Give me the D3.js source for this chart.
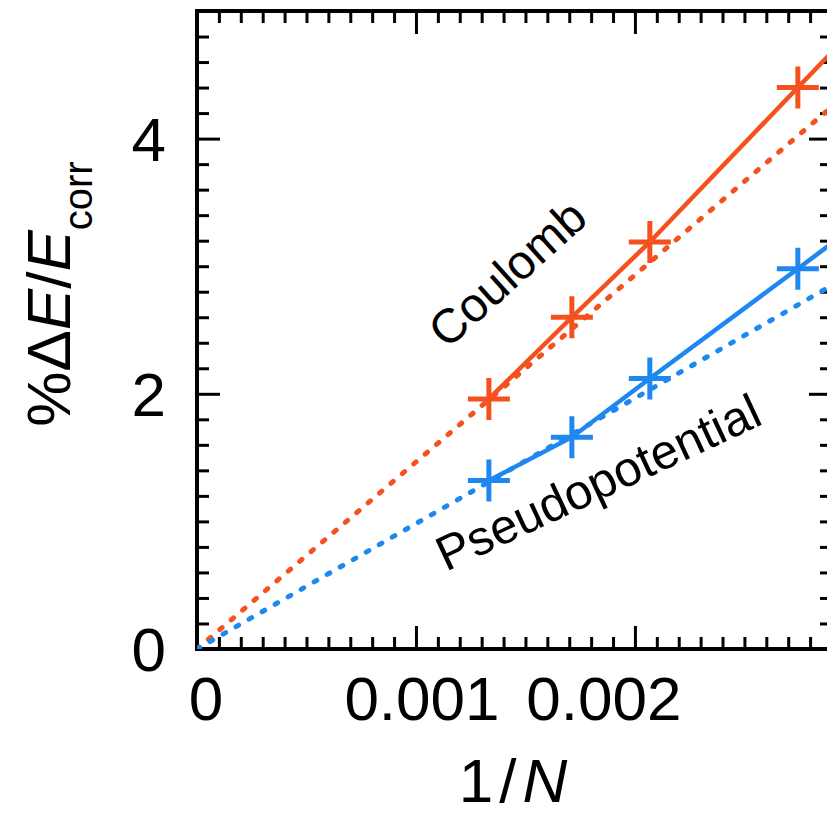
<!DOCTYPE html>
<html><head><meta charset="utf-8">
<script src="https://cdn.jsdelivr.net/npm/d3@7"></script>
<style>body{margin:0;background:#fff}svg{display:block}</style>
</head><body><svg id="c" width="827" height="817"></svg>
<script>
// ---- data ----
const invN = [0.001333, 0.001712, 0.002068, 0.002744, 0.003125];
const coulomb = [1.96, 2.60, 3.19, 4.40, 5.08];
const pseudo = [1.32, 1.66, 2.12, 2.98, 3.47];
const fitX = [0, 0.0029];
const coulombFit = [0, 4.25];
const pseudoFit = [0, 2.85];
const xTickValues = [0, 0.001, 0.002];
const xTickLabels = ["0", "0.001", "0.002"];
const yTickValues = [0, 2, 4];
const yTickLabels = ["0", "2", "4"];
const seriesNames = ["Coulomb", "Pseudopotential"];

const orange = "#f4511e", blue = "#1e88f0";
const font = "Liberation Sans, Arial, sans-serif";

const svg = d3.select("#c");
svg.append("rect").attr("width", 827).attr("height", 817).attr("fill", "#fff");

const x = d3.scaleLinear().domain([0, 0.0029]).range([197, 832]);
const y = d3.scaleLinear().domain([0, 5]).range([649, 11]);

svg.append("defs").append("clipPath").attr("id", "clip")
  .append("rect").attr("x", 197).attr("y", 11).attr("width", 635).attr("height", 638);

const xMinor = d3.range(1, 29).filter(i => i % 10 !== 0).map(i => i * 0.0001);
const yMinor = d3.range(1, 25).filter(i => i % 10 !== 0).map(i => i * 0.2);

function styleAxis(g, w) {
  g.select(".domain").remove();
  g.selectAll(".tick line").attr("stroke", "#000").attr("stroke-width", w);
  g.selectAll(".tick text").remove();
}
// bottom
svg.append("g").attr("transform", "translate(0,649)")
  .call(d3.axisBottom(x).tickValues(xMinor).tickSize(-12).tickFormat("")).call(g => styleAxis(g, 3));
svg.append("g").attr("transform", "translate(0,649)")
  .call(d3.axisBottom(x).tickValues(xTickValues).tickSize(-23).tickFormat("")).call(g => styleAxis(g, 3));
// top
svg.append("g").attr("transform", "translate(0,11)")
  .call(d3.axisTop(x).tickValues(xMinor).tickSize(-12).tickFormat("")).call(g => styleAxis(g, 3));
svg.append("g").attr("transform", "translate(0,11)")
  .call(d3.axisTop(x).tickValues(xTickValues).tickSize(-23).tickFormat("")).call(g => styleAxis(g, 3));
// left
svg.append("g").attr("transform", "translate(197,0)")
  .call(d3.axisLeft(y).tickValues(yMinor).tickSize(-12).tickFormat("")).call(g => styleAxis(g, 3));
svg.append("g").attr("transform", "translate(197,0)")
  .call(d3.axisLeft(y).tickValues(yTickValues).tickSize(-23).tickFormat("")).call(g => styleAxis(g, 3));
// right
svg.append("g").attr("transform", "translate(832,0)")
  .call(d3.axisRight(y).tickValues(yMinor).tickSize(-12).tickFormat("")).call(g => styleAxis(g, 3));
svg.append("g").attr("transform", "translate(832,0)")
  .call(d3.axisRight(y).tickValues(yTickValues).tickSize(-23).tickFormat("")).call(g => styleAxis(g, 3));

// frame
svg.append("rect").attr("x", 197).attr("y", 11).attr("width", 635).attr("height", 638)
  .attr("fill", "none").attr("stroke", "#000").attr("stroke-width", 4);

// tick labels (label placement in the original is slightly shifted from the ticks)
const xLabelShift = [9, 6, -31];
svg.append("g").selectAll("text").data(xTickValues).join("text")
  .attr("x", (d, i) => x(d) + xLabelShift[i]).attr("y", 720).attr("text-anchor", "middle")
  .attr("font-family", font).attr("font-size", 62).text((d, i) => xTickLabels[i]);
svg.append("g").selectAll("text").data(yTickValues).join("text")
  .attr("x", 166).attr("y", d => y(d)).attr("dy", "0.36em").attr("text-anchor", "end")
  .attr("font-family", font).attr("font-size", 62).text((d, i) => yTickLabels[i]);

// plot content
const plot = svg.append("g").attr("clip-path", "url(#clip)");
const line = d3.line().x(d => x(d[0])).y(d => y(d[1]));

const fits = [[coulombFit, orange], [pseudoFit, blue]];
fits.forEach(([vals, col]) => {
  plot.append("path").datum(fitX.map((v, i) => [v, vals[i]])).attr("d", line)
    .attr("fill", "none").attr("stroke", col).attr("stroke-width", 5)
    .attr("stroke-dasharray", "3,12").attr("stroke-linecap", "round");
});
const series = [[coulomb, orange], [pseudo, blue]];
series.forEach(([vals, col]) => {
  const pts = invN.map((v, i) => [v, vals[i]]);
  plot.append("path").datum(pts).attr("d", line)
    .attr("fill", "none").attr("stroke", col).attr("stroke-width", 4.5);
  plot.append("g").selectAll("path").data(pts).join("path")
    .attr("transform", d => `translate(${x(d[0])},${y(d[1])})`)
    .attr("d", "M-21,0H21M0,-21V21").attr("stroke", col).attr("stroke-width", 5).attr("fill", "none");
});

// series labels
svg.append("text").attr("transform", "translate(447,350) rotate(-42)")
  .attr("font-family", font).attr("font-size", 48).attr("fill", "#000").text(seriesNames[0]);
svg.append("text").attr("transform", "translate(446,572) rotate(-25)")
  .attr("font-family", font).attr("font-size", 49).attr("fill", "#000").text(seriesNames[1]);

// axis titles
const yl = svg.append("text").attr("transform", "translate(70,294) rotate(-90)")
  .attr("text-anchor", "middle").attr("font-family", font).attr("font-size", 62);
yl.append("tspan").text("%\u0394");
yl.append("tspan").attr("font-style", "italic").text("E");
yl.append("tspan").text("/");
yl.append("tspan").attr("font-style", "italic").text("E");
yl.append("tspan").attr("font-size", 40).attr("dy", 22).text("corr");

const xl = svg.append("text").attr("x", 513).attr("y", 802)
  .attr("text-anchor", "middle").attr("font-family", font).attr("font-size", 62);
xl.append("tspan").text("1");
xl.append("tspan").attr("dx", 6).text("/");
xl.append("tspan").attr("dx", 6).attr("font-style", "italic").text("N");
</script>
</body></html>
